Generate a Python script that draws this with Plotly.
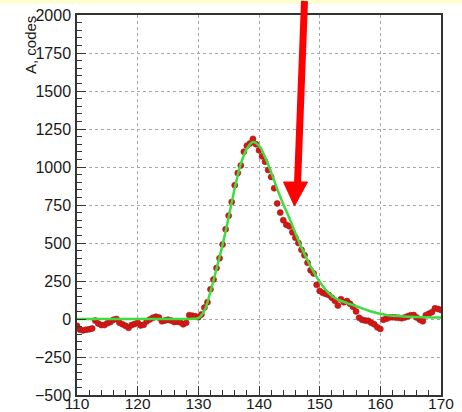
import plotly.graph_objects as go

# ---- data ----
pts_x = [110.0, 110.5, 111.0, 111.5, 112.0, 112.5, 113.0, 113.5, 114.0, 114.5,
         115.0, 115.5, 116.0, 116.5, 117.0, 117.5, 118.0, 118.5, 119.0, 119.5,
         120.0, 120.5, 121.0, 121.5, 122.0, 122.5, 123.0, 123.5, 124.0, 124.5,
         125.0, 125.5, 126.0, 126.5, 127.0, 127.5, 128.0, 128.5, 129.0, 129.5,
         130.0, 130.5, 131.0, 131.5, 132.0, 132.5, 133.0, 133.5, 134.0, 134.5,
         135.0, 135.5, 136.0, 136.5, 137.0, 137.5, 138.0, 138.5, 139.0, 139.5,
         140.0, 140.5, 141.0, 141.5, 142.0, 142.5, 143.0, 143.5, 144.0, 144.5,
         145.0, 145.5, 146.0, 146.5, 147.0, 147.5, 148.0, 148.5, 149.0, 149.5,
         150.0, 150.5, 151.0, 151.5, 152.0, 152.5, 153.0, 153.5, 154.0, 154.5,
         155.0, 155.5, 156.0, 156.5, 157.0, 157.5, 158.0, 158.5, 159.0, 159.5,
         160.0, 160.5, 161.0, 161.5, 162.0, 162.5, 163.0, 163.5, 164.0, 164.5,
         165.0, 165.5, 166.0, 166.5, 167.0, 167.5, 168.0, 168.5, 169.0, 169.5,
         170.0]
pts_y = [-45, -70, -75, -70, -68, -62, -10, -30, -40, -40,
         -28, -20, -5, 0, -25, -35, -45, -58, -40, -33,
         -25, -42, -38, -15, -3, 8, 15, 10, -15, -10,
         -5, -10, -20, -18, -22, -35, -25, 25, 22, 18,
         12, 30, 75, 110, 195, 260, 335, 400, 490, 590,
         680, 770, 880, 960, 1010, 1100, 1140, 1155, 1185, 1150,
         1110, 1070, 1035, 980, 935, 860, 760, 700, 650, 620,
         610, 570, 535, 500, 455, 420, 370, 320, 300, 225,
         185, 172, 165, 158, 140, 120, 88, 130, 110, 118,
         100, 80, 50, 8, -5, -10, -12, -25, -35, -55,
         -65, -5, 2, 10, 12, 10, 8, 5, 10, 18,
         25, 26, 10, -5, -15, 25, 35, 45, 70, 66,
         60]

fit_x = [110, 111, 112, 113, 114, 115, 116, 117, 118, 119, 120, 121, 122, 123,
         124, 125, 126, 127, 128, 129, 130, 131, 132, 133, 134, 135, 136, 137,
         138, 139, 140, 141, 142, 143, 144, 145, 146, 147, 148, 149, 150, 151,
         152, 153, 154, 155, 156, 157, 158, 159, 160, 161, 162, 163, 164, 165,
         166, 167, 168, 169, 170]
fit_y = [0, 0, 0, 0, 0, 0, 0, 0, 0, 0, 0, 0, 0, 0,
         0, 0, 0, 0, 0, 2, 6, 55, 180, 330, 490, 670, 860, 1020,
         1120, 1165, 1140, 1065, 965, 855, 755, 665, 565, 470, 385, 310, 245, 192,
         152, 128, 112, 98, 84, 70, 56, 44, 34, 27, 22, 19, 16, 14,
         13, 12, 11, 10, 10]

x_ticks = [110, 120, 130, 140, 150, 160, 170]
y_ticks = [-500, -250, 0, 250, 500, 750, 1000, 1250, 1500, 1750, 2000]
y_title = "A, codes"

# ---- figure ----
W, H = 462, 412
L, R, T, B = 77, 21, 15, 17
pw, ph = W - L - R, H - T - B


def px(xp):
    return (xp - L) / pw


def py(yp):
    return (H - B - yp) / ph


fig = go.Figure()
fig.add_trace(go.Scatter(
    x=pts_x, y=pts_y, mode="markers",
    marker=dict(size=6, color="#d81616", line=dict(width=0.6, color="#a01a10")),
    showlegend=False, hoverinfo="skip"))
fig.add_trace(go.Scatter(
    x=fit_x, y=fit_y, mode="lines", line=dict(color="#3fdc3f", width=2.5, shape="spline"),
    showlegend=False, hoverinfo="skip"))

font = dict(family="Liberation Sans, Arial, sans-serif", size=16, color="#1a1a1a")

axis_common = dict(
    showline=True, linecolor="#333333", linewidth=1.5, mirror=True,
    ticks="inside", ticklen=9, tickcolor="#333333", tickwidth=1,
    showgrid=True, gridcolor="#a8a8a8", griddash="dot", gridwidth=1,
    zeroline=False,
)

fig.update_xaxes(range=[110, 170], tickvals=x_ticks, ticktext=[str(v) for v in x_ticks],
                 minor=dict(ticks="inside", dtick=2, ticklen=5, tickcolor="#333333", showgrid=False),
                 ticklabelstandoff=-6, tickfont=dict(font, size=15.5),
                 **axis_common)
fig.update_yaxes(range=[-500, 2000], tickvals=y_ticks,
                 ticktext=[str(v) if v >= 0 else "\u2212" + str(-v) for v in y_ticks],
                 minor=dict(ticks="inside", dtick=50, ticklen=5, tickcolor="#333333", showgrid=False),
                 ticklabelstandoff=1, tickfont=font,
                 **axis_common)

shapes = [
    # light yellow band at the top of the slide
    dict(type="rect", xref="paper", yref="paper", x0=px(0), x1=px(W), y0=py(4), y1=py(0),
         fillcolor="#ffffd2", line=dict(width=0), layer="below"),
    # red arrow shaft
    dict(type="line", xref="paper", yref="paper", x0=px(304.5), y0=py(1), x1=px(297.5), y1=py(184),
         line=dict(color="#ff0000", width=7)),
    # red arrow head
    dict(type="path", xref="paper", yref="paper",
         path=f"M {px(283.5)},{py(182)} L {px(307.5)},{py(182)} L {px(294.5)},{py(206)} Z",
         fillcolor="#ff0000", line=dict(color="#ff0000", width=1)),
]

annotations = [
    dict(text=y_title, xref="paper", yref="paper", x=px(30), y=py(45), textangle=-90,
         showarrow=False, font=dict(family="Liberation Sans, Arial, sans-serif", size=15, color="#1a1a1a"),
         xanchor="center", yanchor="middle"),
]

fig.update_layout(
    width=W, height=H, margin=dict(l=L, r=R, t=T, b=B, autoexpand=False),
    paper_bgcolor="white", plot_bgcolor="white",
    shapes=shapes, annotations=annotations, showlegend=False,
)

fig.write_html("out.html", config={"displayModeBar": False},
               post_script="document.body.style.margin='0';document.body.style.overflow='hidden';")
